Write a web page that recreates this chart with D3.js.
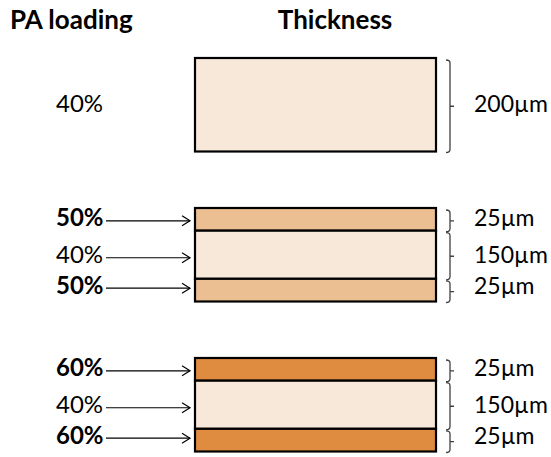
<!DOCTYPE html>
<html>
  <head>
	<meta charset="utf-8">
	<script src="https://d3js.org/d3.v7.min.js"></script>
	<style>
	  body { margin: 0; background: #fff; }
	  text { font-family: Lato, "Open Sans", sans-serif; fill: #000; }
	</style>
  </head>

<body>
	<div id="layerviz"></div>
  <script>
	// chart data
	var stacks = ["single", "sym50", "sym60"];
	var loadings = [[40], [50, 40, 50], [60, 40, 60]];
	var thickness = [[200], [25, 150, 25], [25, 150, 25]];
	var headers = ["PA loading", "Thickness"];
	var loadLevels = [40, 50, 60];

	var width = 551, height = 457;

	var svg = d3.select("#layerviz")
		.append("svg")
			.attr("width", width)
			.attr("height", height);

	// stack placement
	var y = d3.scalePoint()
		.domain(stacks)
		.range([58, 358]);
	var stackH = 93.5;
	var x = d3.scaleLinear()
		.domain([0, 1])
		.range([195, 436]);

	// layers aren't drawn to scale in the figure, thin layers get extra room
	var weight = d3.scalePow().exponent(0.42).domain([0, 200]).range([0, Math.pow(200, 0.42)]);

	var color = d3.scaleOrdinal()
		.domain(loadLevels)
		.range(["#f8e8da", "#ecbf92", "#df8c40"]);

	var fmtPct = function(d) { return d + "%"; };
	var fmtUm = function(d) { return d + "\u00b5m"; };

	// build layer rows
	var layers = [];
	stacks.forEach(function(s, i) {
		var w = thickness[i].map(function(t) { return weight(t); });
		var tot = d3.sum(w);
		var h = d3.scaleLinear().domain([0, tot]).range([y(s), y(s) + stackH]);
		var acc = 0;
		thickness[i].forEach(function(t, j) {
			layers.push({
				stack: s, n: thickness[i].length, idx: j,
				load: loadings[i][j], thick: t,
				y0: h(acc), y1: h(acc + w[j])
			});
			acc += w[j];
		});
	});

	// text sits a bit low in the middle layer and a bit high in the bottom one
	var nudge = function(d) {
		if (d.n == 1) return 7;
		return [7, 8.5, 3.5][d.idx];
	};

	// headers
	svg.selectAll(".hdr")
		.data(headers)
		.enter().append("text")
			.attr("class", "hdr")
			.attr("x", function(d, i) { return i == 0 ? 10 : 335; })
			.attr("y", 29)
			.attr("text-anchor", function(d, i) { return i == 0 ? "start" : "middle"; })
			.style("font-weight", "bold")
			.style("font-size", "26px")
			.text(function(d) { return d; });

	// layer fills
	svg.selectAll(".layer")
		.data(layers)
		.enter().append("rect")
			.attr("class", "layer")
			.attr("x", x(0))
			.attr("y", function(d) { return d.y0; })
			.attr("width", x(1) - x(0))
			.attr("height", function(d) { return d.y1 - d.y0; })
			.attr("fill", function(d) { return color(d.load); })
			.attr("stroke", "#000")
			.attr("stroke-width", 2.2);

	// left labels
	svg.selectAll(".lbl")
		.data(layers)
		.enter().append("text")
			.attr("class", "lbl")
			.attr("x", 56)
			.attr("y", function(d) { return (d.y0 + d.y1) / 2 + nudge(d); })
			.style("font-size", "24px")
			.style("font-weight", function(d) { return d.load == 40 ? "normal" : "bold"; })
			.text(function(d) { return fmtPct(d.load); });

	// arrows for multilayer stacks
	var multi = layers.filter(function(d) { return d.n > 1; });
	var arr = svg.selectAll(".arr")
		.data(multi)
		.enter().append("g")
			.attr("class", "arr")
			.attr("transform", function(d) { return "translate(0," + ((d.y0 + d.y1) / 2 + nudge(d) - 5.5) + ")"; });
	arr.append("line")
		.attr("x1", 106).attr("x2", 190)
		.attr("stroke", "#000").attr("stroke-width", 1.2);
	arr.append("path")
		.attr("d", "M182,-5L190,0L182,5")
		.attr("fill", "none")
		.attr("stroke", "#000").attr("stroke-width", 1.2);

	// braces
	svg.selectAll(".brace")
		.data(layers)
		.enter().append("path")
			.attr("class", "brace")
			.attr("fill", "none")
			.attr("stroke", "#404040")
			.attr("stroke-width", 1.3)
			.attr("d", function(d) {
				var t = d.y0 + 2, b = d.y1 + 1, m = (t + b) / 2;
				return "M446," + t + "Q450," + t + " 450," + (t + 3) +
					"L450," + (b - 3) + "Q450," + b + " 446," + b +
					"M450," + m + "L454," + m;
			});

	// thickness labels
	svg.selectAll(".th")
		.data(layers)
		.enter().append("text")
			.attr("class", "th")
			.attr("x", 474)
			.attr("y", function(d) { return (d.y0 + d.y1) / 2 + nudge(d); })
			.style("font-size", "23px")
			.text(function(d) { return fmtUm(d.thick); });
  </script>
</body>
</html>
